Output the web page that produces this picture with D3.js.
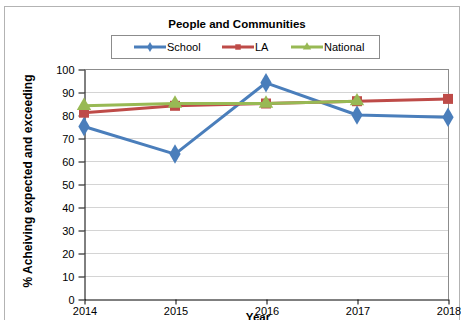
<!DOCTYPE html>
<html>
<head>
<meta charset="utf-8">
<script src="https://cdn.jsdelivr.net/npm/d3@7"></script>
<style>
  html, body { margin: 0; padding: 0; background: #fff; }
  svg { display: block; font-family: "Liberation Sans", Arial, sans-serif; }
</style>
</head>
<body>
<svg id="chart" width="461" height="320"></svg>
<script>
// Data
const years = [2014, 2015, 2016, 2017, 2018];
const school = [75, 63, 94, 80, 79];
const la = [81, 84, 85, 86, 87];
const national = [84, 85, 85, 86, null];
const yTicks = [0, 10, 20, 30, 40, 50, 60, 70, 80, 90, 100];

const seriesNames = ["School", "LA", "National"];
const seriesColors = ["#4a7ebb", "#be4b48", "#98b954"];
const seriesSymbols = [d3.symbolDiamond, d3.symbolSquare, d3.symbolTriangle];

const svg = d3.select("#chart");
const W = 461, H = 320;
const plot = { left: 84, right: 448, top: 69, bottom: 299 };

// outer chart frame
svg.append("rect")
  .attr("x", 4.5).attr("y", 6.5)
  .attr("width", 455).attr("height", 330)
  .attr("fill", "#fff").attr("stroke", "#b3b3b3").attr("stroke-width", 1);

const x = d3.scalePoint().domain(years).range([plot.left, plot.right]);
const y = d3.scaleLinear().domain([0, 100]).range([plot.bottom, plot.top]);

// gridlines
svg.append("g")
  .selectAll("line")
  .data(yTicks.filter(t => t > 0))
  .join("line")
  .attr("x1", plot.left).attr("x2", plot.right)
  .attr("y1", d => Math.round(y(d)) + 0.5).attr("y2", d => Math.round(y(d)) + 0.5)
  .attr("stroke", d => d === 100 ? "#8c8c8c" : "#d4d4d4")
  .attr("stroke-width", 1);

// right border of plot area
svg.append("line")
  .attr("x1", plot.right + 0.5).attr("x2", plot.right + 0.5)
  .attr("y1", plot.top).attr("y2", plot.bottom)
  .attr("stroke", "#8c8c8c");

// y axis
const yAxis = svg.append("g")
  .attr("transform", `translate(${plot.left + 0.5},0.5)`)
  .call(d3.axisLeft(y).tickValues(yTicks).tickSize(6).tickPadding(4).tickSizeOuter(0));
yAxis.select(".domain").attr("stroke", "#000");
yAxis.selectAll(".tick line").attr("stroke", "#000");
yAxis.selectAll("text").attr("font-size", 11).attr("fill", "#000")
  .attr("font-family", "Liberation Sans, Arial, sans-serif");

// x axis
const xAxis = svg.append("g")
  .attr("transform", `translate(0.5,${plot.bottom + 0.5})`)
  .call(d3.axisBottom(x).tickSize(5).tickPadding(3).tickSizeOuter(0));
xAxis.select(".domain").attr("stroke", "#000");
xAxis.selectAll(".tick line").attr("stroke", "#000");
xAxis.selectAll("text").attr("font-size", 11).attr("fill", "#000")
  .attr("font-family", "Liberation Sans, Arial, sans-serif");

// lines and markers
const allSeries = [school, la, national];
const line = d3.line()
  .defined(d => d.v != null)
  .x(d => x(d.year)).y(d => y(d.v));

allSeries.forEach((vals, i) => {
  const pts = years.map((yr, j) => ({ year: yr, v: vals[j] }));
  const g = svg.append("g");
  g.append("path")
    .datum(pts)
    .attr("d", line)
    .attr("fill", "none")
    .attr("stroke", seriesColors[i])
    .attr("stroke-width", 3)
    .attr("stroke-linejoin", "round");
  const size = i === 0 ? 110 : (i === 1 ? 100 : 90);
  g.selectAll("path.m")
    .data(pts.filter(d => d.v != null))
    .join("path")
    .attr("class", "m")
    .attr("transform", d => `translate(${x(d.year)},${y(d.v)})`)
    .attr("d", d3.symbol().type(seriesSymbols[i]).size(size))
    .attr("fill", seriesColors[i]);
});

// title
svg.append("text")
  .attr("x", 237).attr("y", 28)
  .attr("text-anchor", "middle")
  .attr("font-size", 11.5).attr("font-weight", "bold")
  .text("People and Communities");

// legend
const legend = svg.append("g");
legend.append("rect")
  .attr("x", 111.5).attr("y", 35.5).attr("width", 268).attr("height", 23)
  .attr("fill", "#fff").attr("stroke", "#8c8c8c");
const legendX = [134, 222, 291];
seriesNames.forEach((name, i) => {
  const lx = legendX[i];
  legend.append("line")
    .attr("x1", lx).attr("x2", lx + 32)
    .attr("y1", 47).attr("y2", 47)
    .attr("stroke", seriesColors[i]).attr("stroke-width", 3);
  legend.append("path")
    .attr("transform", `translate(${lx + 16},47)`)
    .attr("d", d3.symbol().type(seriesSymbols[i]).size(30))
    .attr("fill", seriesColors[i]);
  legend.append("text")
    .attr("x", lx + 33).attr("y", 51)
    .attr("font-size", 11)
    .text(name);
});

// axis titles
svg.append("text")
  .attr("transform", `translate(32,181) rotate(-90)`)
  .attr("text-anchor", "middle")
  .attr("font-size", 12).attr("font-weight", "bold")
  .text("% Acheiving expected and exceeding");

svg.append("text")
  .attr("x", 258).attr("y", 321)
  .attr("text-anchor", "middle")
  .attr("font-size", 11.5).attr("font-weight", "bold")
  .text("Year");
</script>
</body>
</html>
